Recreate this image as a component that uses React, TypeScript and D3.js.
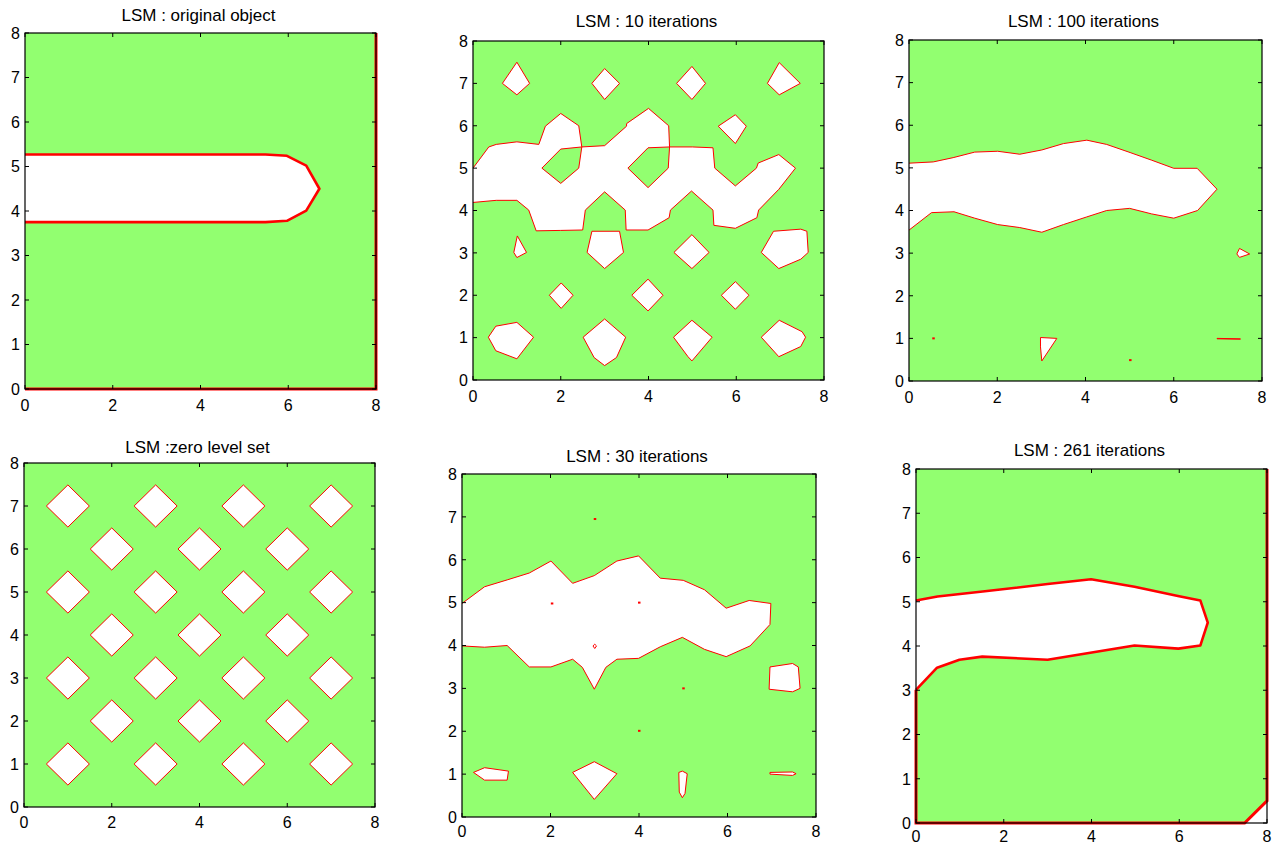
import React from 'react';
import * as d3 from 'd3';

type Pt = [number, number];

const GREEN = '#92ff70';
const RED = '#ff0000';

const xTicks = [0, 2, 4, 6, 8];
const yTicks = [0, 1, 2, 3, 4, 5, 6, 7, 8];

const titles = [
  'LSM : original object',
  'LSM : 10 iterations',
  'LSM : 100 iterations',
  'LSM :zero level set',
  'LSM : 30 iterations',
  'LSM : 261 iterations',
];

// --- original object
const originalObject: Pt[] = [[0, 5.27], [5.48, 5.27], [5.97, 5.24], [6.41, 5.02], [6.71, 4.5], [6.41, 4.01], [5.97, 3.78], [5.48, 3.75], [0, 3.75]];
const originalEdge: Pt[] = [[0, 0], [8, 0], [8, 8]];

// --- 10 iterations
const iter10Blob: Pt[] = [
  [0, 5.0], [0.36, 5.5], [0.53, 5.56], [1.0, 5.62], [1.5, 5.56], [1.65, 5.99], [2.0, 6.29], [2.41, 6.0], [2.48, 5.5],
  [3.0, 5.53], [3.5, 5.99], [3.5, 6.05], [4.0, 6.41], [4.46, 6.0], [4.48, 5.5], [5.0, 5.5], [5.47, 5.48], [5.51, 5.0],
  [5.98, 4.58], [6.46, 5.0], [6.5, 5.12], [6.97, 5.32], [7.35, 5.0], [6.97, 4.5], [6.51, 4.01], [6.47, 3.83], [5.98, 3.58],
  [5.49, 3.65], [5.47, 4.01], [4.98, 4.46], [4.5, 4.01], [4.47, 3.83], [3.99, 3.54], [3.49, 3.54], [3.47, 4.01], [3.0, 4.44],
  [2.56, 4.01], [2.5, 3.54], [2.0, 3.53], [1.44, 3.52], [1.27, 4.01], [1.0, 4.24], [0.53, 4.24], [0, 4.19],
];
const iter10Holes: Pt[][] = [
  [[1.57, 5.0], [2.0, 5.45], [2.48, 5.5], [2.41, 5.0], [2.0, 4.64]],
  [[3.53, 5.0], [3.99, 5.48], [4.48, 5.5], [4.45, 5.0], [3.99, 4.54]],
];
const iter10Islands: Pt[][] = [
  [[1.0, 7.5], [1.29, 7.0], [1.0, 6.73], [0.67, 7.0]],
  [[3.0, 7.35], [3.34, 7.0], [3.0, 6.62], [2.71, 7.0]],
  [[4.99, 7.4], [5.3, 7.0], [4.99, 6.62], [4.64, 7.0]],
  [[6.98, 7.49], [7.46, 7.0], [6.98, 6.73], [6.71, 7.0]],
  [[5.98, 6.26], [6.23, 5.99], [5.98, 5.58], [5.59, 5.99]],
  [[1.01, 3.4], [1.22, 3.01], [1.0, 2.89], [0.93, 3.01]],
  [[2.71, 3.51], [3.34, 3.51], [3.43, 3.01], [3.0, 2.63], [2.6, 3.01]],
  [[4.99, 3.43], [5.38, 3.01], [4.99, 2.63], [4.58, 3.01]],
  [[6.85, 3.51], [7.47, 3.56], [7.61, 3.51], [7.64, 3.01], [7.47, 2.85], [6.97, 2.63], [6.57, 3.01]],
  [[2.01, 2.29], [2.28, 2.0], [2.01, 1.69], [1.74, 2.0]],
  [[3.99, 2.38], [4.33, 2.0], [3.99, 1.63], [3.62, 2.0]],
  [[5.98, 2.32], [6.29, 2.0], [5.98, 1.67], [5.66, 2.0]],
  [[0.52, 1.27], [1.0, 1.36], [1.38, 1.01], [1.0, 0.5], [0.52, 0.69], [0.35, 1.01]],
  [[3.0, 1.44], [3.48, 1.01], [3.27, 0.53], [3.0, 0.34], [2.76, 0.53], [2.51, 1.01]],
  [[4.99, 1.41], [5.45, 1.01], [4.99, 0.45], [4.9, 0.55], [4.57, 1.01]],
  [[6.98, 1.41], [7.5, 1.14], [7.58, 1.01], [7.47, 0.79], [6.97, 0.55], [6.57, 1.01]],
];

// --- 100 iterations
const iter100Blob: Pt[] = [
  [0, 5.11], [0.55, 5.14], [1.0, 5.24], [1.49, 5.37], [2.01, 5.39], [2.51, 5.32], [3.01, 5.42], [3.5, 5.57], [4.03, 5.65],
  [4.48, 5.55], [5.01, 5.36], [5.5, 5.18], [6.0, 4.99], [6.53, 4.99], [6.98, 4.5], [6.54, 4.0], [6.0, 3.82], [5.5, 3.92],
  [5.0, 4.05], [4.48, 4.0], [4.03, 3.85], [3.5, 3.67], [3.01, 3.49], [2.51, 3.6], [2.01, 3.67], [1.49, 3.82], [1.02, 3.97],
  [0.51, 3.95], [0, 3.54],
];
const iter100Islands: Pt[][] = [
  [[7.49, 3.11], [7.72, 2.98], [7.49, 2.9], [7.43, 2.98]],
  [[2.98, 1.02], [3.35, 1.0], [3.01, 0.47], [2.98, 0.8]],
  [[6.98, 1.0], [7.51, 0.99], [7.51, 0.98], [6.98, 0.99]],
];
const iter100Dots: Pt[] = [[0.55, 1.0], [5.01, 0.49]];

// --- zero level set (hole centres)
const zeroCenters: Pt[] = [
  [1, 7], [3, 7], [5, 7], [7, 7],
  [2, 6], [4, 6], [6, 6],
  [1, 5], [3, 5], [5, 5], [7, 5],
  [2, 4], [4, 4], [6, 4],
  [1, 3], [3, 3], [5, 3], [7, 3],
  [2, 2], [4, 2], [6, 2],
  [1, 1], [3, 1], [5, 1], [7, 1],
];
const holeRadius = 0.49;

// --- 30 iterations
const iter30Blob: Pt[] = [
  [0, 4.98], [0.51, 5.37], [1.02, 5.53], [1.52, 5.69], [2.01, 5.97], [2.5, 5.45], [2.99, 5.63], [3.5, 5.97], [3.99, 6.09],
  [4.48, 5.57], [5.0, 5.52], [5.48, 5.3], [5.97, 4.87], [6.49, 5.05], [6.98, 4.98], [6.96, 4.49], [6.51, 3.99], [5.97, 3.74],
  [5.48, 3.91], [4.98, 4.19], [4.48, 3.97], [3.99, 3.7], [3.5, 3.68], [3.25, 3.49], [2.99, 2.98], [2.72, 3.49], [2.5, 3.68],
  [2.01, 3.5], [1.52, 3.5], [1.02, 4.0], [0.51, 3.96], [0, 3.99],
];
const iter30Islands: Pt[][] = [
  [[6.96, 3.5], [7.47, 3.58], [7.6, 3.5], [7.64, 3.0], [7.47, 2.92], [6.94, 2.98]],
  [[0.26, 1.04], [0.51, 1.15], [1.05, 1.07], [1.02, 0.86], [0.51, 0.86]],
  [[2.99, 1.29], [3.5, 1.01], [2.99, 0.41], [2.5, 1.04]],
  [[4.98, 1.07], [5.09, 1.01], [5.04, 0.55], [4.98, 0.45], [4.91, 0.58], [4.9, 1.04]],
  [[6.96, 1.04], [7.47, 1.05], [7.55, 1.01], [7.47, 0.97], [6.96, 1.0]],
  [[3.0, 4.03], [3.04, 3.99], [3.0, 3.93], [2.96, 3.99]],
];
const iter30Dots: Pt[] = [[3.0, 6.95], [2.03, 4.98], [4.0, 5.0], [5.0, 3.0], [4.0, 2.01]];

// --- 261 iterations
const iter261Blob: Pt[] = [
  [0, 5.03], [0.49, 5.12], [1.52, 5.23], [3.0, 5.4], [3.99, 5.51], [4.98, 5.34], [5.97, 5.13], [6.48, 5.03], [6.65, 4.53],
  [6.48, 4.01], [5.98, 3.94], [4.98, 4.01], [3.0, 3.69], [1.51, 3.76], [0.99, 3.69], [0.48, 3.51], [0, 3.01],
];
const iter261Corner: Pt[] = [[7.49, 0], [8, 0.5], [8, 0]];
const iter261Edge: Pt[] = [[0, 3.01], [0, 0], [7.49, 0], [8, 0.5], [8, 8]];

type Shape = { pts: Pt[]; fill: string; open?: boolean; stroke?: boolean };
type Box = { l: number; r: number; t: number; b: number; titleY: number; xLabelDy: number };

const boxes: Box[] = [
  { l: 25, r: 376, t: 33, b: 389, titleY: 21, xLabelDy: 22 },
  { l: 473, r: 824, t: 41, b: 380, titleY: 27, xLabelDy: 22 },
  { l: 909, r: 1262, t: 40, b: 381, titleY: 27, xLabelDy: 22 },
  { l: 24, r: 375, t: 463, b: 807, titleY: 453, xLabelDy: 21 },
  { l: 462, r: 816, t: 474, b: 817, titleY: 462, xLabelDy: 20 },
  { l: 916, r: 1267, t: 469, b: 823, titleY: 456, xLabelDy: 19 },
];

const diamond = (c: Pt): Pt[] => [
  [c[0], c[1] + holeRadius], [c[0] + holeRadius, c[1]], [c[0], c[1] - holeRadius], [c[0] - holeRadius, c[1]],
];

const panels: { shapes: Shape[]; edge?: Pt[]; dots?: Pt[]; sw: number }[] = [
  { shapes: [{ pts: originalObject, fill: '#fff', open: true }], edge: originalEdge, sw: 2.6 },
  {
    shapes: [
      { pts: iter10Blob, fill: '#fff', open: true },
      ...iter10Holes.map(p => ({ pts: p, fill: GREEN })),
      ...iter10Islands.map(p => ({ pts: p, fill: '#fff' })),
    ],
    sw: 1,
  },
  {
    shapes: [
      { pts: iter100Blob, fill: '#fff', open: true },
      ...iter100Islands.map(p => ({ pts: p, fill: '#fff' })),
    ],
    dots: iter100Dots,
    sw: 1,
  },
  { shapes: zeroCenters.map(c => ({ pts: diamond(c), fill: '#fff' })), sw: 1 },
  {
    shapes: [
      { pts: iter30Blob, fill: '#fff', open: true },
      ...iter30Islands.map(p => ({ pts: p, fill: '#fff' })),
    ],
    dots: iter30Dots,
    sw: 1,
  },
  {
    shapes: [
      { pts: iter261Blob, fill: '#fff', open: true },
      { pts: iter261Corner, fill: '#fff', stroke: false },
    ],
    edge: iter261Edge,
    sw: 2.6,
  },
];

const FONT = '"Liberation Sans", Arial, Helvetica, sans-serif';

function Panel({ box, title, shapes, edge, dots, sw }: { box: Box; title: string; shapes: Shape[]; edge?: Pt[]; dots?: Pt[]; sw: number }) {
  const x = d3.scaleLinear().domain([0, 8]).range([box.l, box.r]);
  const y = d3.scaleLinear().domain([0, 8]).range([box.b, box.t]);
  const line = d3.line<Pt>().x(d => x(d[0])).y(d => y(d[1]));
  const tl = 4;
  return (
    <g>
      <rect x={box.l} y={box.t} width={box.r - box.l} height={box.b - box.t} fill={GREEN} />
      {shapes.map((s, i) => (
        <path key={'f' + i} d={line(s.pts) + 'Z'} fill={s.fill} stroke="none" />
      ))}
      {shapes.filter(s => s.stroke !== false).map((s, i) => (
        <path key={'s' + i} d={line(s.pts) + (s.open ? '' : 'Z')} fill="none" stroke={RED} strokeWidth={sw} strokeLinejoin="round" />
      ))}
      {dots && dots.map((d, i) => (
        <rect key={'d' + i} x={x(d[0]) - 1} y={y(d[1]) - 1} width={2.5} height={2} fill={RED} />
      ))}
      {edge && <path d={line(edge) ?? ''} fill="none" stroke={RED} strokeWidth={sw + 0.4} />}
      <rect x={box.l} y={box.t} width={box.r - box.l} height={box.b - box.t} fill="none" stroke="#000" strokeWidth={1.2} />
      {xTicks.map(t => (
        <g key={'x' + t}>
          <line x1={x(t)} x2={x(t)} y1={box.b} y2={box.b - tl} stroke="#000" />
          <line x1={x(t)} x2={x(t)} y1={box.t} y2={box.t + tl} stroke="#000" />
          <text x={x(t)} y={box.b + box.xLabelDy} textAnchor="middle" fontSize={16} fontFamily={FONT} fill="#000">{t}</text>
        </g>
      ))}
      {yTicks.map(t => (
        <g key={'y' + t}>
          <line x1={box.l} x2={box.l + tl} y1={y(t)} y2={y(t)} stroke="#000" />
          <line x1={box.r} x2={box.r - tl} y1={y(t)} y2={y(t)} stroke="#000" />
          <text x={box.l - 5} y={y(t)} dy="0.36em" textAnchor="end" fontSize={16} fontFamily={FONT} fill="#000">{t}</text>
        </g>
      ))}
      <text x={(box.l + box.r) / 2 - 2} y={box.titleY} textAnchor="middle" fontSize={17} fontFamily={FONT} fill="#000">{title}</text>
    </g>
  );
}

export default function App() {
  return (
    <svg width={1276} height={846} style={{ position: 'absolute', left: 0, top: 0, background: '#fff' }}>
      <rect width={1276} height={846} fill="#fff" />
      {panels.map((p, i) => (
        <Panel key={i} box={boxes[i]} title={titles[i]} shapes={p.shapes} edge={p.edge} dots={p.dots} sw={p.sw} />
      ))}
    </svg>
  );
}
